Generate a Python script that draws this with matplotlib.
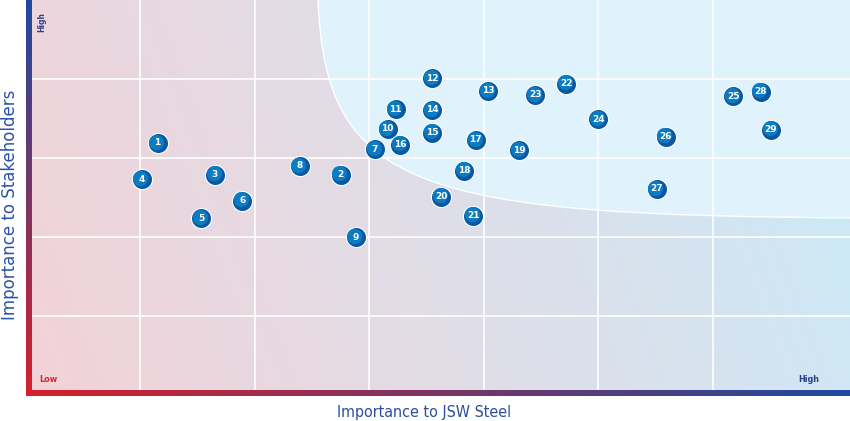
import matplotlib
matplotlib.use("Agg")
import matplotlib.pyplot as plt
import numpy as np
from matplotlib.path import Path
from matplotlib.patches import PathPatch
from matplotlib import transforms

# Data: material topics (id, importance to JSW Steel, importance to stakeholders)
topic_ids = list(range(1, 30))
x_vals = [1.15, 2.75, 1.65, 1.01, 1.53, 1.89, 3.05, 2.39, 2.88, 3.16,
          3.23, 3.55, 4.04, 3.55, 3.55, 3.27, 3.93, 3.83, 4.31, 3.63,
          3.91, 4.72, 4.45, 5.00, 6.18, 5.59, 5.51, 6.42, 6.51]
y_vals = [3.19, 2.79, 2.79, 2.73, 2.24, 2.46, 3.11, 2.90, 2.00, 3.37,
          3.62, 4.01, 3.85, 3.61, 3.32, 3.17, 3.23, 2.84, 3.10, 2.51,
          2.27, 3.94, 3.80, 3.49, 3.78, 3.27, 2.61, 3.84, 3.36]

x_max, y_max = 7.2, 5.0

fig = plt.figure(figsize=(8.5, 4.21), dpi=100)
ax = fig.add_axes([26 / 850, 26 / 421, 824 / 850, 395 / 421])

# background gradient pink -> light blue
pink = np.array([243, 210, 216]) / 255
blue = np.array([202, 234, 248]) / 255
gx, gy = np.meshgrid(np.linspace(0, 1, 300), np.linspace(0, 1, 150))
t = np.clip(0.85 * gx + 0.15 * gy, 0, 1)[..., None]
img = pink * (1 - t) + blue * t
ax.imshow(img, extent=[0, x_max, 0, y_max], origin="lower", aspect="auto", zorder=0)

# high-priority region
verts = [(2.552, 5.0), (2.614, 2.595), (3.444, 2.278), (7.25, 2.241),
         (7.25, 5.05), (2.552, 5.05), (2.552, 5.0)]
codes = [Path.MOVETO, Path.CURVE4, Path.CURVE4, Path.CURVE4,
         Path.LINETO, Path.LINETO, Path.CLOSEPOLY]
ax.add_patch(PathPatch(Path(verts, codes), facecolor="#e0f2fc", edgecolor="white",
                       lw=1.0, zorder=1))

# gradient axis bars (red -> blue)
red = np.array([215, 32, 42]) / 255
dblue = np.array([30, 74, 160]) / 255
f = np.linspace(0, 1, 256)
bar = red * (1 - f[:, None]) + dblue * f[:, None]
ax.imshow(bar[None, :, :], extent=[0, x_max, -0.015, 0.05], aspect="auto",
          clip_on=False, zorder=5)
ax.imshow(bar[:, None, :], extent=[0, 0.044, -0.015, y_max], origin="lower",
          aspect="auto", clip_on=False, zorder=5)

ax.set_xlim(0, x_max)
ax.set_ylim(0, y_max)

# grid
ax.set_xticks(np.arange(1, 7))
ax.set_yticks(np.arange(1, 5))
ax.grid(True, color="white", lw=1.3, alpha=0.9, zorder=2)
ax.set_axisbelow(False)
ax.tick_params(length=0, labelbottom=False, labelleft=False)
for s in ax.spines.values():
    s.set_visible(False)

# markers
ax.plot(x_vals, y_vals, "o", ms=14.5, mfc="#0b58a2", mec="white", mew=0.8, zorder=6)
shift = transforms.offset_copy(ax.transData, fig=fig, x=-0.9, y=0.9, units="points")
ax.plot(x_vals, y_vals, "o", ms=11, mfc="#0c80c6", mec="none", alpha=0.9,
        transform=shift, zorder=7)
for tid, x, y in zip(topic_ids, x_vals, y_vals):
    ax.text(x, y, str(tid), color="white", fontsize=6.5, fontweight="bold",
            ha="center", va="center", zorder=8)

# corner labels
ax.text(0.14, 4.72, "High", rotation=90, color="#2a3f8f", fontsize=6, fontweight="bold",
        ha="center", va="center", fontstretch="condensed", zorder=8)
ax.text(0.12, 0.19, "Low", color="#d42a32", fontsize=6.5, fontweight="bold",
        ha="left", va="center", fontstretch="condensed", zorder=8)
ax.text(6.84, 0.19, "High", color="#2a3f8f", fontsize=6.5, fontweight="bold",
        ha="center", va="center", fontstretch="condensed", zorder=8)

# axis titles
fig.text(10 / 850, 1 - 205 / 421, "Importance to Stakeholders", rotation=90,
         color="#2a52a8", fontsize=12, ha="center", va="center")
fig.text(424 / 850, 1 - 412 / 421, "Importance to JSW Steel", color="#2a4f9e",
         fontsize=11.5, ha="center", va="center", family="DejaVu Sans",
         fontstretch="condensed")

fig.savefig("out.png", dpi=100)
